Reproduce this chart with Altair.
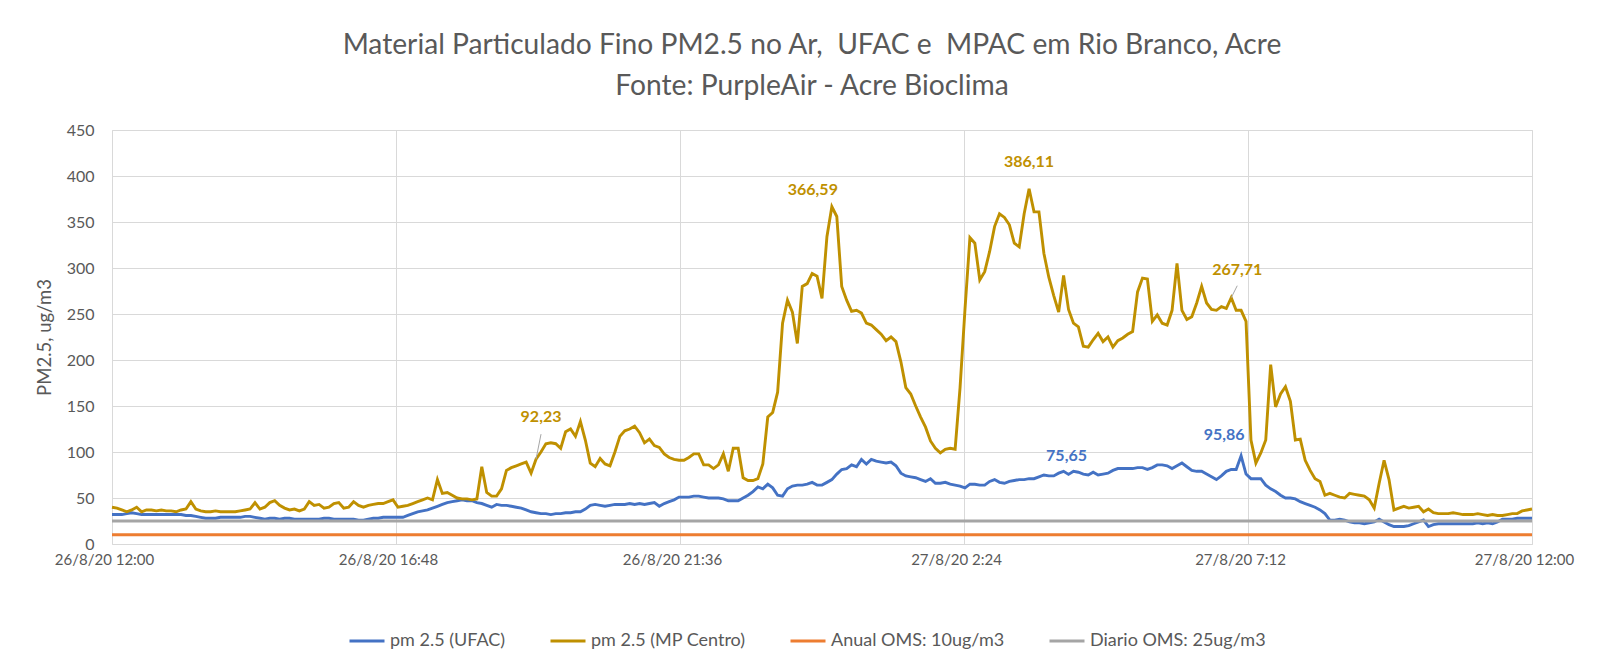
import altair as alt
import pandas as pd

# ---------------- data ----------------
TITLE = ["Material Particulado Fino PM2.5 no Ar, \u00a0UFAC e \u00a0MPAC em Rio Branco, Acre",
         "Fonte: PurpleAir - Acre Bioclima"]
Y_TITLE = "PM2.5, ug/m3"
X_LABELS = ["26/8/20 12:00", "26/8/20 16:48", "26/8/20 21:36",
            "27/8/20 2:24", "27/8/20 7:12", "27/8/20 12:00"]
X_TICKS_H = [0, 4.8, 9.6, 14.4, 19.2, 24]
Y_TICKS = [0, 50, 100, 150, 200, 250, 300, 350, 400, 450]

SERIES = ["pm 2.5 (UFAC)", "pm 2.5 (MP Centro)", "Anual OMS: 10ug/m3", "Diario OMS: 25ug/m3"]
COLORS = ["#4472C4", "#BF9000", "#ED7D31", "#A5A5A5"]
STEP_MIN = 5  # sampling interval of the sensors (minutes)

# pm 2.5 (UFAC) - one row per hour, 5-minute samples
ufac = [
    32, 32, 32, 33, 34, 33, 32, 32, 32, 32, 32, 32,
    32, 32, 32, 31, 31, 30, 29, 28, 28, 28, 29, 29,
    29, 29, 29, 30, 30, 29, 28, 27, 28, 28, 27, 28,
    28, 27, 27, 27, 27, 27, 27, 28, 28, 27, 27, 27,
    27, 27, 26, 26, 27, 28, 28, 29, 29, 29, 29, 29,
    31, 33, 35, 36, 37, 39, 41, 43, 45, 46, 47, 48,
    47, 47, 45, 44, 42, 40, 43, 42, 42, 41, 40, 39,
    37, 35, 34, 33, 33, 32, 33, 33, 34, 34, 35, 35,
    38, 42, 43, 42, 41, 42, 43, 43, 43, 44, 43, 44,
    43, 44, 45, 41, 44, 46, 48, 51, 51, 51, 52, 52,
    51, 50, 50, 50, 49, 47, 47, 47, 50, 53, 57, 62,
    60, 65, 61, 53, 52, 60, 63, 64, 64, 65, 67, 64,
    64, 67, 70, 76, 81, 82, 86, 84, 92, 87, 92, 90,
    89, 88, 89, 85, 77, 74, 73, 72, 70, 68, 71, 66,
    66, 67, 65, 64, 63, 61, 65, 65, 64, 64, 68, 70,
    67, 66, 68, 69, 70, 70, 71, 71, 73, 75, 74, 74,
    77, 79, 75.65, 79, 78, 76, 75, 78, 75, 76, 77, 80,
    82, 82, 82, 82, 83, 83, 81, 83, 86, 86, 85, 82,
    85, 88, 84, 80, 79, 79, 76, 73, 70, 74, 79, 81,
    81, 95.86, 76, 71, 71, 71, 64, 60, 57, 53, 50, 50,
    49, 46, 44, 42, 40, 37, 33, 26, 26, 27, 26, 24,
    23, 23, 22, 23, 24, 27, 24, 21, 19, 19, 19, 20,
    22, 24, 26, 19, 21, 22, 22, 22, 22, 22, 22, 22,
    22, 23, 22, 23, 22, 24, 27, 27, 27, 28, 28, 28,
    28,
]

# pm 2.5 (MP Centro)
mpc = [
    40, 39, 37, 35, 37, 40, 35, 37, 37, 36, 37, 36,
    36, 35, 37, 38, 46, 38, 36, 35, 35, 36, 35, 35,
    35, 35, 36, 37, 38, 45, 38, 40, 45, 47, 42, 39,
    37, 38, 36, 38, 46, 42, 43, 39, 40, 44, 45, 39,
    40, 46, 42, 40, 42, 43, 44, 44, 46, 48, 40, 41,
    42, 44, 46, 48, 50, 48, 70, 55, 56, 53, 50, 49,
    49, 48, 49, 84, 56, 52, 52, 60, 80, 83, 85, 87,
    89, 77, 92.23, 100, 109, 110, 109, 104, 122, 125, 117, 133,
    113, 88, 84, 93, 87, 85, 100, 117, 123, 125, 128, 121,
    110, 114, 107, 105, 98, 94, 92, 91, 91, 94, 98, 98,
    86, 86, 82, 86, 98, 79, 104, 104, 72, 69, 69, 71,
    87, 138, 143, 165, 240, 265, 252, 218, 280, 283, 294, 291,
    267, 334, 366.59, 356, 280, 265, 253, 254, 251, 240, 238, 233,
    228, 221, 225, 220, 198, 170, 163, 150, 138, 127, 112, 104,
    99, 103, 104, 103, 170, 255, 333, 327, 287, 296, 318, 345,
    359, 355, 347, 327, 323, 359, 386.11, 361, 361, 316, 290, 270,
    252, 292, 255, 240, 236, 215, 214, 222, 229, 220, 225, 214,
    221, 224, 228, 231, 274, 289, 288, 242, 249, 240, 238, 254,
    305, 254, 244, 247, 262, 280, 262, 255, 254, 258, 256, 267.71,
    254, 254, 242, 113, 88, 99, 113, 195, 149, 163, 171, 155,
    113, 114, 91, 80, 71, 68, 53, 55, 53, 51, 50, 55,
    54, 53, 52, 48, 39, 66, 91, 70, 37, 39, 41, 39,
    40, 41, 35, 38, 34, 33, 33, 33, 34, 33, 32, 32,
    32, 33, 32, 31, 32, 31, 31, 32, 33, 33, 36, 37,
    38,
]

ANUAL_OMS = 10
DIARIO_OMS = 25

# labelled points: (series, sample index)
LABELS = [(1, 86), (1, 146), (1, 186), (1, 227), (0, 194), (0, 229)]

# ---------------- styling ----------------
FONT = "Lato"
TXT = "#595959"
GRID = "#D9D9D9"
W, H = 1420, 414
# per-label offsets (dx, dy) in pixels, and leader line ends
LABEL_OFFSETS = [(5, -42), (-19, -17), (0, -27), (6, -28), (-2, -18), (-17, -21)]
LEADERS = {0: (5, -25), 3: (6, -12)}

# ---------------- build tables ----------------
hours = [i * STEP_MIN / 60 for i in range(len(ufac))]
df_u = pd.DataFrame({"t": hours, "v": ufac, "series": SERIES[0]})
df_m = pd.DataFrame({"t": hours, "v": mpc, "series": SERIES[1]})
df_a = pd.DataFrame({"t": [hours[0], hours[-1]], "v": [ANUAL_OMS] * 2, "series": SERIES[2]})
df_d = pd.DataFrame({"t": [hours[0], hours[-1]], "v": [DIARIO_OMS] * 2, "series": SERIES[3]})

color = alt.Color("series:N",
                  scale=alt.Scale(domain=SERIES, range=COLORS),
                  sort=SERIES,
                  legend=alt.Legend(title=None, orient="none", direction="horizontal",
                                    columns=4, legendX=236, legendY=492,
                                    symbolType="stroke", symbolSize=1225,
                                    symbolStrokeWidth=3, labelFontSize=18,
                                    labelFont=FONT, labelColor=TXT, labelOffset=4,
                                    labelLimit=400, columnPadding=38))

label_expr = "[" + ",".join("'%s'" % s for s in X_LABELS) + "][round(datum.value/4.8)]"
x = alt.X("t:Q", scale=alt.Scale(domain=[0, 24], nice=False),
          axis=alt.Axis(values=X_TICKS_H, labelExpr=label_expr, title=None,
                        grid=True, gridColor=GRID, ticks=False, domain=False,
                        labelFontSize=15, labelFont=FONT, labelColor=TXT,
                        labelPadding=8, labelFlush=False, labelOffset=-8))
y = alt.Y("v:Q", scale=alt.Scale(domain=[0, 450], nice=False),
          axis=alt.Axis(values=Y_TICKS, title=Y_TITLE, grid=True, gridColor=GRID,
                        ticks=False, domain=False, labelFontSize=16, labelFont=FONT,
                        labelColor=TXT, labelPadding=18, titleFontSize=18.5,
                        titleFont=FONT, titleColor=TXT, titleFontWeight="normal",
                        titlePadding=12))

def line(df):
    return alt.Chart(df).mark_line(strokeWidth=2.9, interpolate="linear").encode(
        x=x, y=y, color=color)

layers = [line(df_u), line(df_m), line(df_a), line(df_d)]

src = [ufac, mpc]
for k, (s, idx) in enumerate(LABELS):
    val = src[s][idx]
    d = pd.DataFrame({"t": [hours[idx]], "v": [val],
                      "lab": [("%.2f" % val).replace(".", ",")]})
    if k in LEADERS:
        ox, oy = LEADERS[k]
        layers.append(alt.Chart(d).mark_rule(color="#A6A6A6", strokeWidth=1,
                                             x2Offset=ox, y2Offset=oy).encode(
            x="t:Q", y="v:Q", x2="t:Q", y2="v:Q"))
    dx, dy = LABEL_OFFSETS[k]
    layers.append(alt.Chart(d).mark_text(font=FONT, fontSize=16, fontWeight="bold",
                                         color=COLORS[s], dx=dx, dy=dy,
                                         baseline="middle", align="center").encode(
        x="t:Q", y="v:Q", text="lab:N"))

chart = alt.layer(*layers).properties(
    width=W, height=H,
    title=alt.TitleParams(text=TITLE, font=FONT, fontSize=28.2, fontWeight="normal",
                          color=TXT, anchor="middle", offset=21, lineHeight=41, dx=-10),
    autosize=alt.AutoSizeParams(type="none"),
    padding={"left": 104, "top": 122, "right": 59, "bottom": 116},
).configure_view(stroke=None).configure(background="white")

chart.save("out.html", embed_options={"renderer": "svg", "actions": False})
